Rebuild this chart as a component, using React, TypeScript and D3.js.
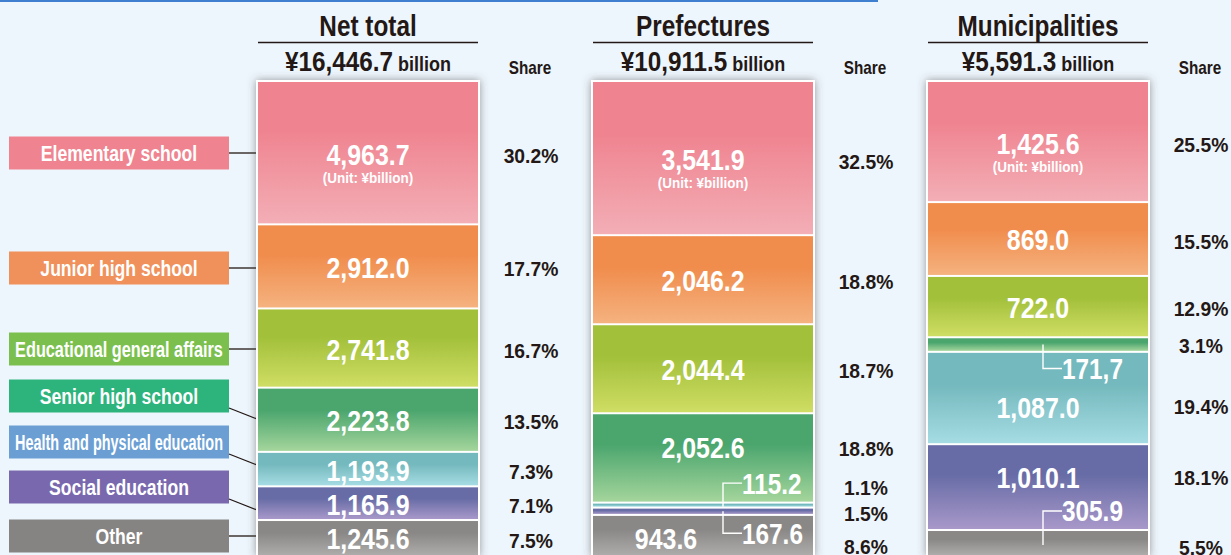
import React from "react";
import * as d3 from "d3";

// 区分
const categories = [
  "Elementary school",
  "Junior high school",
  "Educational general affairs",
  "Senior high school",
  "Health and physical education",
  "Social education",
  "Other",
];
const groups = ["Net total", "Prefectures", "Municipalities"];
const totals = ["¥16,446.7", "¥10,911.5", "¥5,591.3"];

const netTotal = [4963.7, 2912.0, 2741.8, 2223.8, 1193.9, 1165.9, 1245.6];
const prefectures = [3541.9, 2046.2, 2044.4, 2052.6, 115.2, 167.6, 943.6];
const municipalities = [1425.6, 869.0, 722.0, 171.7, 1087.0, 1010.1, 305.9];

const netShare = ["30.2%", "17.7%", "16.7%", "13.5%", "7.3%", "7.1%", "7.5%"];
const prefShare = ["32.5%", "18.8%", "18.7%", "18.8%", "1.1%", "1.5%", "8.6%"];
const muniShare = ["25.5%", "15.5%", "12.9%", "3.1%", "19.4%", "18.1%", "5.5%"];

// 原图标签文本（含原文 "171,7"）
const prefLabels = ["3,541.9", "2,046.2", "2,044.4", "2,052.6", "115.2", "167.6", "943.6"];
const muniLabels = ["1,425.6", "869.0", "722.0", "171,7", "1,087.0", "1,010.1", "305.9"];

const W = 1231;
const H = 555;
const FONT = "'Liberation Sans', Arial, sans-serif";
const DARK = "#231815";

const boxColors = ["#ef8490", "#f0905a", "#7bbf4e", "#2db37c", "#6b9fd4", "#7a68ae", "#868483"];
const gradTop = ["#ef8490", "#f08c4c", "#a2c03a", "#4ba66e", "#74b9bd", "#676ca6", "#8a8887"];
const gradBottom = ["#f3aeb6", "#f5b27f", "#cfdd64", "#a4d59c", "#a6dce4", "#a898c9", "#aeacaa"];

// 标签微调（布局用）
type Tweak = { dx?: number; dy?: number; sdy?: number; callout?: "up" | "down"; cx?: number; len?: number };
const tweaks: Record<string, Tweak> = {
  "1-3": { dy: -10, sdy: -9 },
  "1-4": { callout: "up", cx: 20, len: 22, sdy: -18 },
  "1-5": { callout: "down", cx: 20, len: 22, sdy: 2 },
  "1-6": { dx: -37, dy: 3, sdy: 11 },
  "2-3": { callout: "down", cx: 5, len: 24, sdy: 1 },
  "2-4": { dy: 10, sdy: 8 },
  "2-5": { dy: -10, sdy: -10 },
  "2-6": { callout: "up", cx: 5, len: 32, sdy: 4 },
};

const fmt = d3.format(",.1f");

// 用 canvas 测量文字宽度，模拟窄体字
let ctx: CanvasRenderingContext2D | null = null;
const measure = (t: string, size: number) => {
  if (!ctx) ctx = document.createElement("canvas").getContext("2d");
  if (!ctx) return t.length * size * 0.55;
  ctx.font = `bold ${size}px 'Liberation Sans', Arial, sans-serif`;
  return ctx.measureText(t).width;
};

const T = ({ x, y, sx = 1, size, fill = DARK, anchor = "middle", children }: any) => (
  <text
    transform={`translate(${x},${y}) scale(${sx},1)`}
    dy="0.36em"
    textAnchor={anchor}
    fontSize={size}
    fontWeight="bold"
    fill={fill}
  >
    {children}
  </text>
);

const App = () => {
  const series = [netTotal, prefectures, municipalities];
  const shares = [netShare, prefShare, muniShare];
  const labels = [netTotal.map((v) => fmt(v)), prefLabels, muniLabels];

  const xScale = d3.scaleBand<string>().domain(groups).range([257, 1149]).paddingInner(0.3373).paddingOuter(0);
  const bw = xScale.bandwidth();

  const leftY = [153, 268, 349, 396, 442, 487, 536];
  const barTop = 81;
  const barBottom = 556;

  return (
    <svg width={W} height={H} style={{ position: "absolute", left: 0, top: 0 }} fontFamily={FONT}>
      <defs>
        {categories.map((c, i) => (
          <linearGradient key={c} id={`g${i}`} x1="0" y1="0" x2="0" y2="1">
            <stop offset="0" stopColor={gradTop[i]} />
            <stop offset="0.35" stopColor={gradTop[i]} />
            <stop offset="1" stopColor={gradBottom[i]} />
          </linearGradient>
        ))}
        <filter id="shadow" x="-10%" y="-10%" width="120%" height="120%">
          <feDropShadow dx="0" dy="0" stdDeviation="4" floodColor="#4a4a4a" floodOpacity="0.55" />
        </filter>
      </defs>
      <rect width={W} height={H} fill="#eef6fd" />
      <rect x={0} y={0} width={878} height={2} fill="#3f7fcf" />

      {/* 左侧类别标签 */}
      {categories.map((c, i) => {
        const slanted = i >= 3 && i <= 5;
        const y1 = slanted ? leftY[i] + 12 : leftY[i];
        const y2 = slanted ? y1 + 11 : leftY[i];
        const sx = Math.min(0.8, 208 / measure(c, 22));
        return (
          <g key={c}>
            <rect x={9} y={leftY[i] - 16.5} width={220} height={33} fill={boxColors[i]} />
            <T x={119} y={leftY[i]} sx={sx} size={22} fill="#fff">
              {c}
            </T>
            <line x1={229} y1={y1} x2={257} y2={y2} stroke={DARK} strokeWidth={1.3} />
          </g>
        );
      })}

      {groups.map((g, gi) => {
        const vals = series[gi];
        const total = d3.sum(vals);
        const y = d3.scaleLinear().domain([0, total]).range([barTop, barBottom]);
        const x0 = xScale(g) as number;
        const cx = x0 + bw / 2;
        const cum = d3.cumsum(vals);
        return (
          <g key={g}>
            {/* 标题 */}
            <T x={cx} y={26} sx={0.84} size={29}>
              {g}
            </T>
            <line x1={x0 + 1} x2={x0 + bw - 1} y1={42.5} y2={42.5} stroke={DARK} strokeWidth={1.6} />
            <T x={cx} y={61} sx={0.9} size={27}>
              {totals[gi]}
              <tspan fontSize={20}> billion</tspan>
            </T>
            <T x={x0 + bw + 51} y={68} sx={0.85} size={18}>
              Share
            </T>

            {/* 柱体 */}
            <rect x={x0 - 1} y={barTop - 1} width={bw + 2} height={barBottom - barTop + 2} fill="#fff" filter="url(#shadow)" />
            {vals.map((v, i) => {
              const y0 = y(cum[i] - v);
              const y1 = y(cum[i]);
              return (
                <rect key={i} x={x0 + 1} y={y0 + 1} width={bw - 2} height={Math.max(0, y1 - y0 - 2)} fill={`url(#g${i})`} />
              );
            })}

            {/* 数值与占比 */}
            {vals.map((v, i) => {
              const y0 = y(cum[i] - v);
              const y1 = y(cum[i]);
              const mid = (y0 + y1) / 2;
              const t = tweaks[`${gi}-${i}`] || {};
              const base = i === 0 ? 1.5 : 1;
              const sy = mid + (t.sdy ?? (i === 0 ? 3 : 2));
              let labelNode;
              if (t.callout) {
                const lx = cx + (t.cx ?? 0);
                const ly = t.callout === "up" ? mid - t.len! : mid + t.len!;
                const fromY = t.callout === "up" ? Math.min(mid + 2, y1 - 1) : mid;
                labelNode = (
                  <g>
                    <path d={`M${lx},${fromY}V${ly}H${lx + 19}`} fill="none" stroke="#fff" strokeWidth={1.4} />
                    <T x={lx + 19} y={ly} sx={0.84} size={29} fill="#fff" anchor="start">
                      {labels[gi][i]}
                    </T>
                  </g>
                );
              } else {
                labelNode = (
                  <T x={cx + (t.dx ?? 0)} y={mid + (t.dy ?? base)} sx={0.86} size={29} fill="#fff">
                    {labels[gi][i]}
                  </T>
                );
              }
              return (
                <g key={i}>
                  {labelNode}
                  {i === 0 && (
                    <T x={cx} y={mid + 25} sx={0.9} size={15} fill="#fff">
                      (Unit: ¥billion)
                    </T>
                  )}
                  <T x={x0 + bw + 52} y={sy} sx={0.92} size={21}>
                    {shares[gi][i]}
                  </T>
                </g>
              );
            })}
          </g>
        );
      })}
    </svg>
  );
};

export default App;
